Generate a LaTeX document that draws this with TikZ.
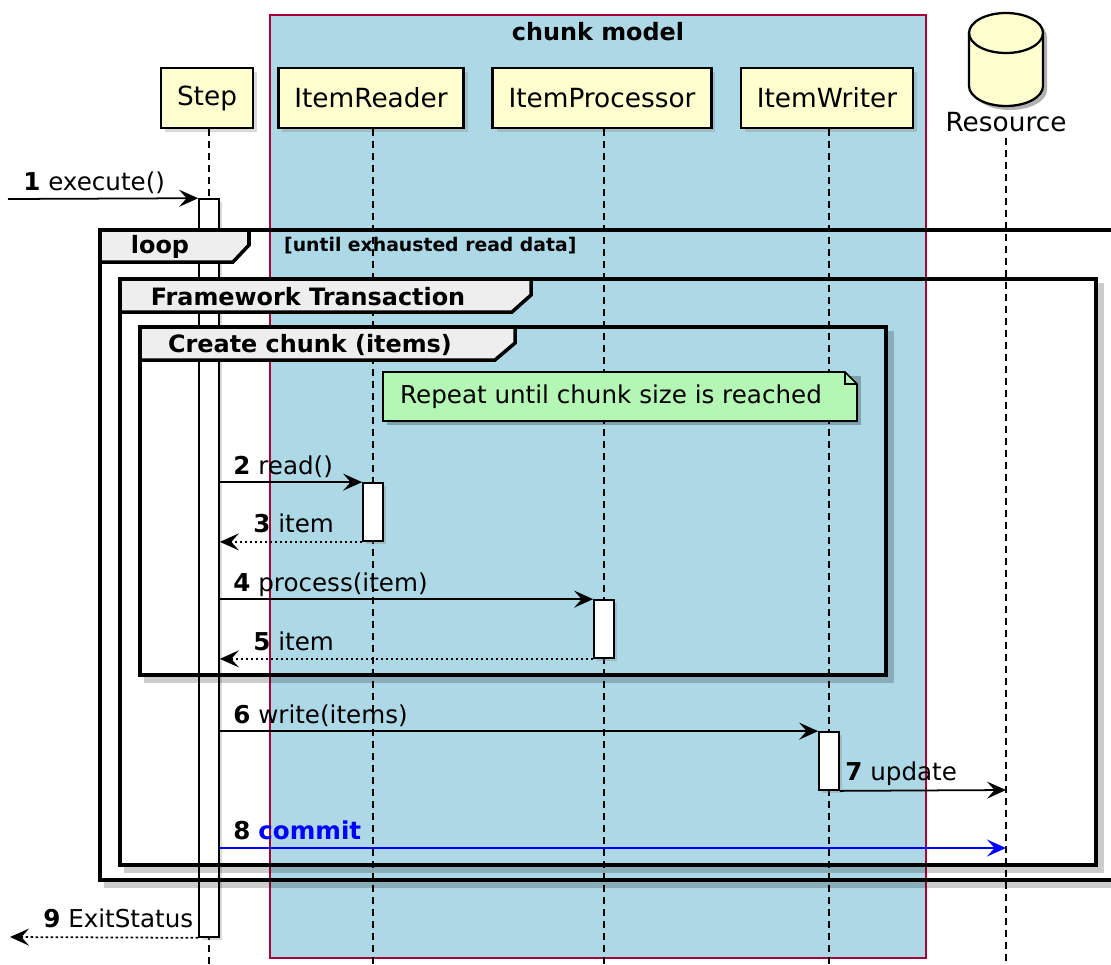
\documentclass[tikz,border=0pt]{standalone}
\usepackage{fontspec}
\setmainfont{DejaVu Sans}
\usepackage{tikz}
\usetikzlibrary{arrows.meta,positioning,shadows}

\definecolor{partfill}{HTML}{FEFECE}
\definecolor{boxfill}{HTML}{ADD8E6}
\definecolor{boxline}{HTML}{A80036}
\definecolor{notefill}{RGB}{180,247,180}
\definecolor{tabfill}{HTML}{EEEEEE}

\begin{document}
\begin{tikzpicture}[x=0.02cm,y=-0.02cm,
  part/.style={draw,line width=1.3pt,fill=partfill,inner xsep=0.32cm,minimum height=1.2cm,
    font=\fontsize{15}{18}\selectfont,
    drop shadow={shadow xshift=0.08cm,shadow yshift=-0.08cm,opacity=0.3}},
  act/.style={draw,line width=1pt,fill=white,minimum width=0.4cm,inner sep=0pt,
    drop shadow={shadow xshift=0.06cm,shadow yshift=-0.06cm,opacity=0.3}},
  life/.style={line width=0.7pt,dash pattern=on 0.14cm off 0.1cm},
  msg/.style={line width=1pt,-{Stealth[length=0.38cm,width=0.34cm,inset=0.15cm]}},
  ret/.style={msg,dash pattern=on 0.05cm off 0.05cm},
  lbl/.style={anchor=base west,inner sep=0pt,font=\fontsize{14}{17}\selectfont},
  frame/.style={line width=2pt},
  fshadow/.style={line width=3pt,black,opacity=0.2},
  tab/.style={line width=2pt,fill=tabfill},
  grp/.style={font=\bfseries\fontsize{13.6}{16}\selectfont}
]
\useasboundingbox (0,0) rectangle (1111,964);
\clip (0,0) rectangle (1111,964);
\coordinate (bot) at (0,964);

% chunk model box
\draw[fill=boxfill,draw=boxline,line width=0.7pt] (270,15) rectangle (926,958);
\node[grp] (0) at (598,32) {chunk model};

% participants
\node[part] (1) at (207,98) {Step};
\node[part] (2) at (371,98) {ItemReader};
\node[part] (3) at (602,98) {ItemProcessor};
\node[part] (4) at (827,98) {ItemWriter};

% database
\fill[black,opacity=0.3,xshift=0.08cm,yshift=-0.08cm] (969,33) -- (969,86)
  arc[start angle=180,end angle=360,x radius=0.74cm,y radius=0.4cm] -- (1043,33)
  arc[start angle=0,end angle=180,x radius=0.74cm,y radius=0.4cm] -- cycle;
\draw[fill=partfill,line width=1.3pt] (969,33) -- (969,86)
  arc[start angle=180,end angle=360,x radius=0.74cm,y radius=0.4cm] -- (1043,33)
  arc[start angle=0,end angle=180,x radius=0.74cm,y radius=0.4cm] -- cycle;
\draw[line width=1.3pt] (969,33) arc[start angle=180,end angle=360,x radius=0.74cm,y radius=0.4cm];
\node[font=\fontsize{15}{18}\selectfont] (5) at (1006,122) {Resource};

% lifelines
\foreach \p/\x in {1/209,2/373,3/604,4/829,5/1006}
  \draw[life] (\x,0 |- \p.south) -- (\x,0 |- bot);

% activations
\node[act,minimum height=14.76cm] (a1) at (209,568) {};
\node[act,minimum height=1.16cm] (a2) at (373,512) {};
\node[act,minimum height=1.16cm] (a3) at (604,629) {};
\node[act,minimum height=1.16cm] (a4) at (829,761) {};

% groups
\draw[fshadow] (104,885) -- (1120,885);
\draw[fshadow] (124,870) -- (1101,870) -- (1101,283);
\draw[fshadow] (144,680) -- (891,680) -- (891,331);
\draw[frame] (1120,230) -- (100,230) -- (100,880) -- (1120,880);
\draw[frame] (120,279) rectangle (1096,865);
\draw[frame] (140,327) rectangle (886,675);
\draw[tab] (100,230) -- (249,230) -- (249,245) -- (233,262) -- (100,262) -- cycle;
\node[grp] (g1) at (160,247) {loop};
\node[anchor=west,font=\bfseries\fontsize{10.7}{13}\selectfont] (g1c) at (278,246) {[until exhausted read data]};
\draw[tab] (120,279) -- (531,279) -- (531,295) -- (512,312) -- (120,312) -- cycle;
\node[grp] (g2) at (308,297) {Framework Transaction};
\draw[tab] (140,327) -- (515,327) -- (515,343) -- (495,360) -- (140,360) -- cycle;
\node[grp] (g3) at (310,345) {Create chunk (items)};

% note
\fill[black,opacity=0.25] (387,376) -- (861,376) -- (861,425) -- (387,425) -- cycle;
\draw[fill=notefill,line width=1pt] (383,372) -- (845,372) -- (857,384) -- (857,421) -- (383,421) -- cycle;
\draw[line width=1pt] (845,372) -- (845,384) -- (857,384);
\node[font=\fontsize{14}{17}\selectfont] (n1) at (611,397) {Repeat until chunk size is reached};

% messages
\coordinate (c1) at (8,199);
\draw[msg] (c1) -- (a1.north west);
\node[lbl] (m1) at (23,190) {\textbf{1} execute()};
\draw[msg] (a1.east |- a2.north) -- (a2.north west);
\node[lbl] (m2) at (233,474) {\textbf{2} read()};
\draw[ret] (a2.south west) -- (a1.east |- a2.south);
\node[lbl] (m3) at (253,532) {\textbf{3} item};
\draw[msg] (a1.east |- a3.north) -- (a3.north west);
\node[lbl] (m4) at (233,591) {\textbf{4} process(item)};
\draw[ret] (a3.south west) -- (a1.east |- a3.south);
\node[lbl] (m5) at (253,650) {\textbf{5} item};
\draw[msg] (a1.east |- a4.north) -- (a4.north west);
\node[lbl] (m6) at (233,723) {\textbf{6} write(items)};
\coordinate (c7) at (1006,790);
\draw[msg] (a4.south east) -- (c7);
\node[lbl] (m7) at (845,780) {\textbf{7} update};
\coordinate (c8) at (1006,848);
\draw[msg,blue] (a1.east |- c8) -- (c8);
\node[lbl] (m8) at (233,839) {\textbf{8} \textcolor{blue}{\textbf{commit}}};
\coordinate (c9) at (10,937);
\draw[ret] (a1.south west) -- (c9);
\node[lbl] (m9) at (43,927) {\textbf{9} ExitStatus};

\end{tikzpicture}
\end{document}
